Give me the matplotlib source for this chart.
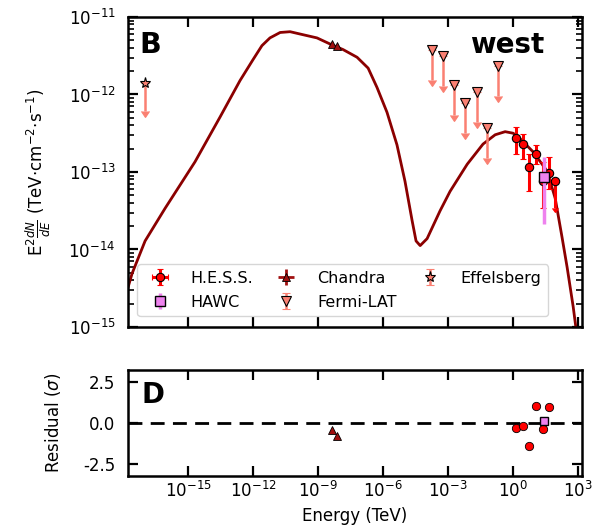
import numpy as np
import matplotlib.pyplot as plt
from matplotlib.ticker import FixedLocator, NullLocator, LogLocator

plt.rcParams['axes.unicode_minus'] = False

# model curve (log10 E [TeV], log10 E^2 dN/dE)
model_logE = [-17.81, -17.58, -16.98, -16.06, -14.68, -13.52, -12.60, -12.00, -11.59,
              -11.22, -10.75, -10.29, -9.83, -9.05, -8.36, -7.85, -7.20, -6.69, -6.28,
              -5.82, -5.36, -4.99, -4.66, -4.48, -4.29, -3.97, -3.37, -2.91, -2.12,
              -1.39, -0.83, -0.37, 0.00, 0.32, 0.92, 1.57, 1.94, 2.26, 2.49, 2.77, 2.91]
model_logF = [-14.53, -14.31, -13.89, -13.47, -12.87, -12.29, -11.82, -11.55, -11.37,
              -11.27, -11.20, -11.19, -11.22, -11.27, -11.36, -11.42, -11.52, -11.66, -11.91,
              -12.23, -12.65, -13.12, -13.63, -13.89, -13.95, -13.86, -13.50, -13.25, -12.90,
              -12.64, -12.52, -12.48, -12.50, -12.57, -12.74, -12.99, -13.34, -13.85, -14.23,
              -14.74, -15.04]

hess_E = [1.38, 2.88, 5.5, 11.5, 24.0, 45.7]
hess_F = [2.75e-13, 2.3e-13, 1.15e-13, 1.73e-13, 7.6e-14, 9.8e-14]
hess_Fhi = [3.8e-13, 3.1e-13, 1.73e-13, 2.24e-13, 1.36e-13, 1.58e-13]
hess_Flo = [1.73e-13, 1.49e-13, 5.6e-14, 1.25e-13, 3.4e-14, 6.1e-14]
hess_ul_E = [87.0]
hess_ul_F = [7.6e-14]

hawc_E = [25.6]
hawc_F = [8.5e-14]
hawc_Fhi = [1.54e-13]
hawc_Flo = [2.13e-14]

chandra_E = [4.4e-9, 7.6e-9]
chandra_F = [4.5e-12, 4.27e-12]

fermi_E = [1.82e-4, 5.9e-4, 1.9e-3, 6.0e-3, 2.19e-2, 6.3e-2, 0.204]
fermi_F = [3.8e-12, 3.1e-12, 1.32e-12, 7.8e-13, 1.07e-12, 3.7e-13, 2.34e-12]

effelsberg_E = [1.05e-17]
effelsberg_F = [1.41e-12]

res_hess = [-0.30, -0.16, -1.43, 1.03, -0.36, 0.95]
res_hawc = [0.14]
res_chandra = [-0.42, -0.81]

fig = plt.figure(figsize=(6.1, 5.29), dpi=100)
ax = fig.add_axes([0.2098, 0.3819, 0.7443, 0.5860])
ax2 = fig.add_axes([0.2098, 0.1002, 0.7443, 0.2004])

ax.plot(10 ** np.array(model_logE), 10 ** np.array(model_logF), color='darkred', lw=2, zorder=2)

hF = np.array(hess_F)
ax.errorbar(hess_E, hF, yerr=[hF - hess_Flo, np.array(hess_Fhi) - hF],
            xerr=np.array(hess_E) * 0.06, fmt='o', color='red', mec='black', mew=0.8,
            ms=6, elinewidth=2.2, capsize=2, label='H.E.S.S.', zorder=4)
ax.errorbar(hess_ul_E, hess_ul_F, yerr=np.array(hess_ul_F) * 0.55, uplims=True,
            fmt='o', color='red', mec='black', mew=0.8, ms=6, elinewidth=2.2, capsize=2, zorder=4)

wF = np.array(hawc_F)
ax.errorbar(hawc_E, wF, yerr=[wF - hawc_Flo, np.array(hawc_Fhi) - wF], fmt='s',
            color='violet', mfc='violet', mec='black', mew=1, ms=7, elinewidth=2.5,
            label='HAWC', zorder=5)

ax.errorbar(chandra_E, chandra_F, yerr=np.array(chandra_F) * 0.03,
            xerr=np.array(chandra_E) * 0.1, fmt='^', color='#a01010', mec='black',
            mew=0.6, ms=6, elinewidth=2, capsize=0, label='Chandra', zorder=4)

ax.errorbar(fermi_E, fermi_F, yerr=np.array(fermi_F) * 0.59, uplims=True, fmt='v',
            color='salmon', mfc='salmon', mec='black', mew=0.8, ms=7, elinewidth=1.8,
            capsize=3, label='Fermi-LAT', zorder=3)

ax.errorbar(effelsberg_E, effelsberg_F, yerr=np.array(effelsberg_F) * 0.56, uplims=True,
            fmt='*', color='salmon', mfc='salmon', mec='black', mew=0.8, ms=8,
            elinewidth=1.8, capsize=3, label='Effelsberg', zorder=3)

xlim = (1.7e-18, 1.5e3)
for a in (ax, ax2):
    a.set_xscale('log')
    a.set_xlim(*xlim)
    a.xaxis.set_major_locator(FixedLocator([1e-15, 1e-12, 1e-9, 1e-6, 1e-3, 1e0, 1e3]))
    a.xaxis.set_minor_locator(NullLocator())
    a.tick_params(which='both', direction='in', top=True, right=True, labelsize=12)
    a.tick_params(which='major', length=7, width=1.6)
    a.tick_params(which='minor', length=4, width=1.2)
    a.tick_params(axis='y', which='major', pad=9)
    for s in a.spines.values():
        s.set_linewidth(1.8)

ax.set_yscale('log')
ax.set_ylim(1e-15, 1e-11)
ax.yaxis.set_major_locator(LogLocator(base=10, numticks=10))
ax.yaxis.set_minor_locator(LogLocator(base=10, subs=np.arange(2, 10), numticks=10))
ax.tick_params(axis='x', labelbottom=False)
ax.set_ylabel(r'E$^2\frac{dN}{dE}$ (TeV$\cdot$cm$^{-2}$$\cdot$s$^{-1}$)', fontsize=12)
ax.yaxis.set_label_coords(-0.165, 0.5)

ax.text(0.026, 0.91, 'B', transform=ax.transAxes, fontsize=20.5, fontweight='bold', va='center')
ax.text(0.835, 0.91, 'west', transform=ax.transAxes, fontsize=20, fontweight='bold',
        va='center', ha='center')

ax.legend(loc='lower left', ncol=3, fontsize=11.5, handlelength=2.0, handletextpad=0.95,
          columnspacing=1.05, labelspacing=0.55, borderaxespad=0.3,
          bbox_to_anchor=(0.01, 0.02))

ax2.axhline(0, color='black', ls=(0, (5, 3)), lw=2, zorder=1)
ax2.plot(hess_E, res_hess, 'o', color='red', mec='black', mew=0.6, ms=6, zorder=3)
ax2.plot(hawc_E, res_hawc, 's', color='violet', mec='black', mew=1, ms=6, zorder=4)
ax2.plot(chandra_E, res_chandra, '^', color='#a01010', mec='black', mew=0.6, ms=6, zorder=3)
ax2.set_ylim(-3.25, 3.25)
ax2.set_yticks([-2.5, 0.0, 2.5])
ax2.set_ylabel(r'Residual ($\sigma$)', fontsize=12)
ax2.yaxis.set_label_coords(-0.143, 0.5)
ax2.set_xlabel('Energy (TeV)', fontsize=12)
ax2.text(0.03, 0.76, 'D', transform=ax2.transAxes, fontsize=20, fontweight='bold', va='center')

fig.savefig('out.png', dpi=100)
